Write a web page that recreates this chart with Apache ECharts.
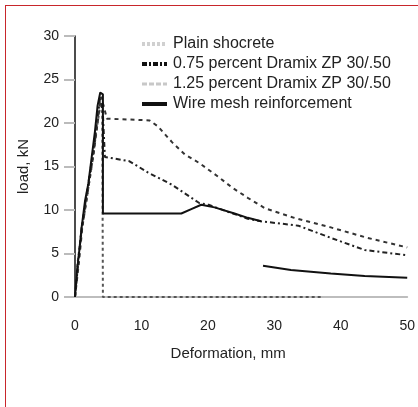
<!DOCTYPE html>
<html>
<head>
<meta charset="utf-8">
<script src="https://cdn.jsdelivr.net/npm/echarts@6/dist/echarts.min.js"></script>
<style>
html,body{margin:0;padding:0;background:#fff;}
#frame{position:absolute;left:5px;top:5px;width:413px;height:402px;border-top:1px solid #c8262b;border-left:1px solid #c8262b;box-sizing:border-box;}
#chart{position:absolute;left:0;top:0;width:418px;height:407px;}
</style>
</head>
<body>
<div id="frame"></div>
<div id="chart"></div>
<script>
var seriesNames = ['Plain shocrete', '0.75 percent Dramix ZP 30/.50', '1.25 percent Dramix ZP 30/.50', 'Wire mesh reinforcement'];
var yTicks = [0, 5, 10, 15, 20, 25, 30];
var xTicks = [0, 10, 20, 30, 40, 50];

var plainX = [0, 0.4, 0.9, 1.5, 2.1, 2.7, 3.2, 3.7, 4.1, 4.2, 37];
var plainY = [0, 4, 7, 10, 13, 16, 19, 21.5, 22, 0, 0];

var d075X = [0, 0.5, 1, 1.6, 2.2, 2.8, 3.3, 3.8, 4.2, 4.5, 8.2, 11, 14.6, 18.7, 20.1, 23, 26, 28, 33.6, 38.5, 43.6, 50];
var d075Y = [0, 4, 8, 11, 14, 17, 20, 23, 21, 16.1, 15.6, 14.3, 12.9, 10.8, 10.6, 9.8, 9.0, 8.7, 8.2, 6.8, 5.4, 4.8];

var d125X = [0, 0.6, 1.1, 1.7, 2.3, 2.9, 3.4, 3.9, 4.3, 4.8, 8, 11.2, 12.5, 14.6, 16.5, 18.7, 21.6, 23.6, 26, 28.6, 33, 38.5, 44, 50];
var d125Y = [0, 4, 8, 11, 14, 17, 20, 23, 22, 20.5, 20.4, 20.3, 19.6, 17.8, 16.4, 15.4, 13.8, 12.6, 11.4, 10.2, 9.1, 8.0, 6.8, 5.7];

var wireX = [0, 0.3, 0.6, 1.0, 1.5, 2.0, 2.5, 3.0, 3.4, 3.8, 4.2, 4.2, 8, 12, 16, 17.5, 19, 21, 24, 26, 28, null, 28.3, 32.5, 38.5, 43.6, 50];
var wireY = [0, 3, 5, 8, 11, 13, 16, 19, 22, 23.5, 23.3, 9.6, 9.6, 9.6, 9.6, 10.1, 10.6, 10.3, 9.6, 9.1, 8.7, null, 3.6, 3.1, 2.7, 2.4, 2.2];

function pairs(xs, ys) {
  return xs.map(function (x, i) { return (x === null || ys[i] === null) ? [null, null] : [x, ys[i]]; });
}

var chart = echarts.init(document.getElementById('chart'), null, {renderer: 'canvas'});
var font = 'Liberation Sans, Arial, sans-serif';
var hiddenSym = {color: 'rgba(0,0,0,0)', borderColor: 'rgba(0,0,0,0)', borderWidth: 0};
chart.setOption({
  animation: false,
  backgroundColor: 'transparent',
  grid: {left: 75, right: 8, top: 36, bottom: 110, containLabel: false},
  legend: {
    orient: 'vertical', left: 135, top: 31, itemWidth: 25, itemHeight: 14, itemGap: 4,
    textStyle: {fontFamily: font, fontSize: 16, color: '#222', padding: [0, 0, 0, 1]},
    data: [
      {name: seriesNames[0], itemStyle: hiddenSym, lineStyle: {color: '#d0d0d0', width: 4, type: [3, 2]}},
      {name: seriesNames[1], itemStyle: hiddenSym, lineStyle: {color: '#111', width: 4, type: [5, 2, 2, 2]}},
      {name: seriesNames[2], itemStyle: hiddenSym, lineStyle: {color: '#c8c8c8', width: 3, type: [5, 2]}},
      {name: seriesNames[3], itemStyle: hiddenSym, lineStyle: {color: '#111', width: 4, type: 'solid'}}
    ]
  },
  xAxis: {
    type: 'value', min: xTicks[0], max: xTicks[xTicks.length - 1], interval: 10,
    name: 'Deformation, mm', nameLocation: 'middle', nameGap: 49,
    nameTextStyle: {fontFamily: font, fontSize: 15, color: '#222', padding: [0, 26, 0, 0]},
    axisLine: {show: true, lineStyle: {color: '#bdbdbd', width: 2}},
    axisTick: {show: false},
    splitLine: {show: false},
    axisLabel: {fontFamily: font, fontSize: 14, color: '#222', margin: 22}
  },
  yAxis: {
    type: 'value', min: yTicks[0], max: yTicks[yTicks.length - 1], interval: 5,
    name: 'load, kN', nameLocation: 'middle', nameGap: 44,
    nameTextStyle: {fontFamily: font, fontSize: 15, color: '#222'},
    axisLine: {show: true, lineStyle: {color: '#111', width: 1.5}},
    axisTick: {show: true, length: 11, lineStyle: {color: '#bbb', width: 2}},
    splitLine: {show: false},
    axisLabel: {fontFamily: font, fontSize: 14, color: '#222', margin: 16}
  },
  series: [
    {name: seriesNames[0], type: 'line', symbol: 'none', connectNulls: false, data: pairs(plainX, plainY),
      lineStyle: {color: '#555', width: 2, type: [3, 3]}, itemStyle: {color: '#555'}, z: 1},
    {name: seriesNames[1], type: 'line', symbol: 'none', connectNulls: false, data: pairs(d075X, d075Y),
      lineStyle: {color: '#222', width: 2, type: [5, 3, 2, 3]}, itemStyle: {color: '#222'}, z: 2},
    {name: seriesNames[2], type: 'line', symbol: 'none', connectNulls: false, data: pairs(d125X, d125Y),
      lineStyle: {color: '#333', width: 2, type: [4, 4]}, itemStyle: {color: '#333'}, z: 2},
    {name: seriesNames[3], type: 'line', symbol: 'none', connectNulls: false, data: pairs(wireX, wireY),
      lineStyle: {color: '#111', width: 2, type: 'solid'}, itemStyle: {color: '#111'}, z: 3}
  ]
});
</script>
</body>
</html>
